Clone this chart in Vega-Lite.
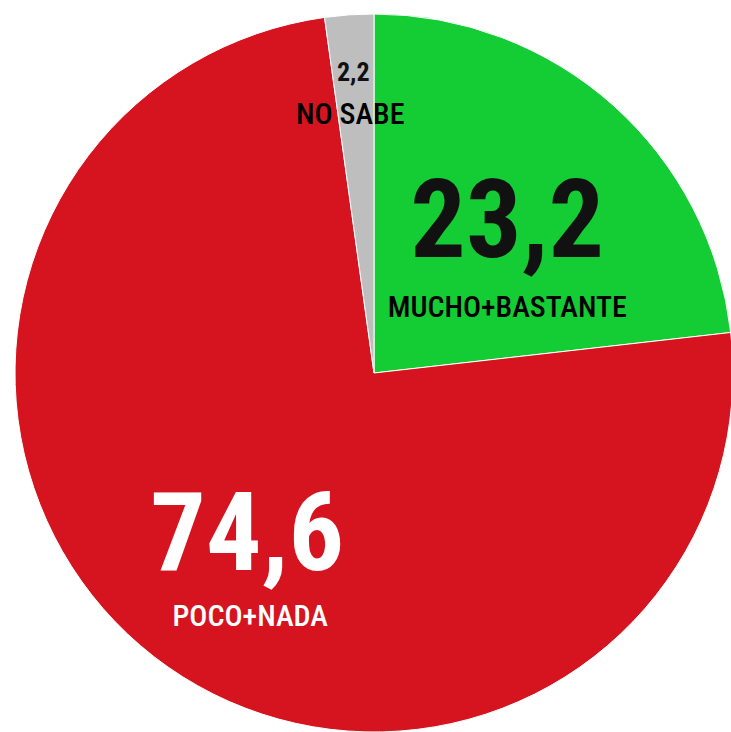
{
  "$schema": "https://vega.github.io/schema/vega-lite/v6.json",
  "width": 731,
  "height": 732,
  "autosize": {"type": "fit", "contains": "padding"},
  "padding": {"left": 17, "top": 14, "right": 0, "bottom": 0},
  "background": "white",
  "config": {
    "view": {"stroke": null},
    "locale": {"number": {"decimal": ",", "thousands": ".", "grouping": [3], "currency": ["", " €"]}}
  },
  "data": {
    "values": [
      {"categoria": "MUCHO+BASTANTE", "valor": 23.2, "orden": 1},
      {"categoria": "POCO+NADA", "valor": 74.6, "orden": 2},
      {"categoria": "NO SABE", "valor": 2.2, "orden": 3}
    ]
  },
  "encoding": {
    "theta": {"field": "valor", "type": "quantitative", "stack": true},
    "order": {"field": "orden", "type": "ordinal"}
  },
  "layer": [
    {
      "mark": {"type": "arc", "outerRadius": 359, "stroke": "white", "strokeWidth": 1},
      "encoding": {
        "color": {
          "field": "categoria",
          "type": "nominal",
          "scale": {"domain": ["MUCHO+BASTANTE", "POCO+NADA", "NO SABE"], "range": ["#14CC34", "#D5141F", "#BEBEBE"]},
          "legend": null
        }
      }
    },
    {
      "mark": {"type": "text", "font": "Roboto Condensed, Roboto, sans-serif", "fontWeight": "bold", "baseline": "middle", "align": "center"},
      "encoding": {
        "radius": {"field": "valor", "type": "quantitative", "scale": {"type": "linear", "zero": false, "domain": [2.2, 23.2, 74.6], "range": [301, 200, 207]}},
        "text": {"field": "valor", "type": "quantitative", "format": ".1f"},
        "size": {"field": "categoria", "type": "nominal", "scale": {"type": "ordinal", "domain": ["MUCHO+BASTANTE", "POCO+NADA", "NO SABE"], "range": [110, 110, 26]}, "legend": null},
        "color": {"condition": {"test": "datum.categoria === 'POCO+NADA'", "value": "white"}, "value": "#111111"}
      }
    },
    {
      "mark": {"type": "text", "font": "Roboto Condensed, Roboto, sans-serif", "fontWeight": 500, "baseline": "alphabetic", "align": "center", "dy": 93},
      "encoding": {
        "radius": {"field": "valor", "type": "quantitative", "scale": {"type": "linear", "zero": false, "domain": [2.2, 23.2, 74.6], "range": [343, 200, 202]}},
        "text": {"field": "categoria", "type": "nominal"},
        "size": {"field": "categoria", "type": "nominal", "scale": {"type": "ordinal", "domain": ["MUCHO+BASTANTE", "POCO+NADA", "NO SABE"], "range": [30, 30, 30]}, "legend": null},
        "color": {"condition": {"test": "datum.categoria === 'POCO+NADA'", "value": "white"}, "value": "black"}
      }
    }
  ],
  "resolve": {"scale": {"radius": "independent", "size": "independent"}}
}
